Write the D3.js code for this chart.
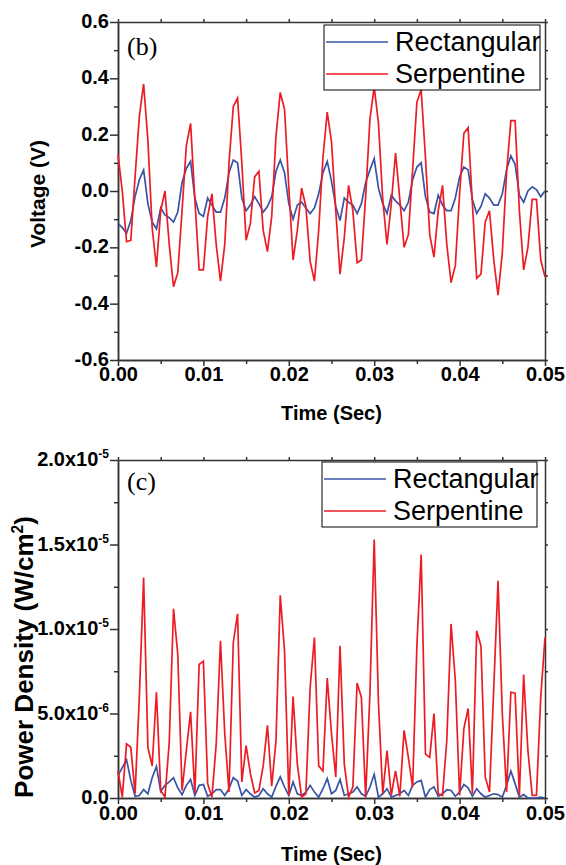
<!DOCTYPE html>
<html lang="en">
<head>
<meta charset="UTF-8">
<title>Voltage and Power Density vs Time</title>
<script src="https://d3js.org/d3.v7.min.js"></script>
<style>
  body { margin: 0; background: #fff; }
  .axis path, .axis line { stroke: #333; stroke-width: 1.5; }
  .axis text { font-family: "Liberation Sans", Arial, sans-serif; font-weight: bold; font-size: 20px; fill: #000; }
  .title { font-family: "Liberation Sans", Arial, sans-serif; font-weight: bold; fill: #000; }
  .legend text { font-family: "Liberation Sans", Arial, sans-serif; font-size: 27px; fill: #000; }
  .tag { font-family: "Liberation Serif", "Times New Roman", serif; font-size: 26px; fill: #000; }
  .series { fill: none; stroke-width: 1.7; stroke-linejoin: miter; }
</style>
</head>
<body>
<div id="chart"></div>
<script>
// sample step of the recordings (s)
const dt = 0.0005;
const seriesNames = ["Rectangular", "Serpentine"];
const seriesColors = ["#3953a4", "#ed1c24"];

// (b) voltage, V
const voltRect = [
  -0.115, -0.13, -0.15, -0.105, -0.02, 0.04, 0.075, -0.045, -0.11, -0.135,
  -0.06, -0.085, -0.095, -0.11, -0.075, 0.03, 0.08, 0.105, -0.025, -0.08,
  -0.09, -0.025, -0.05, -0.075, -0.075, -0.025, 0.065, 0.11, 0.1, -0.025,
  -0.07, -0.05, -0.02, -0.045, -0.075, -0.055, -0.02, 0.07, 0.11, 0.065,
  -0.045, -0.1, -0.05, -0.04, -0.06, -0.08, -0.06, -0.01, 0.065, 0.105,
  0.035, -0.055, -0.105, -0.025, -0.04, -0.05, -0.08, -0.045, 0.03, 0.075,
  0.115, 0.01, -0.045, -0.08, -0.015, -0.035, -0.05, -0.07, -0.04, 0.04,
  0.085, 0.1, -0.02, -0.075, -0.08, -0.015, -0.05, -0.07, -0.07, -0.025,
  0.05, 0.085, 0.075, -0.03, -0.08, -0.055, -0.01, -0.025, -0.05, -0.05,
  -0.01, 0.075, 0.125, 0.095, -0.015, -0.04, 0.0, 0.015, 0.005, -0.02, 0.0
];
const voltSerp = [
  0.13, 0.0, -0.18, -0.175, 0.05, 0.265, 0.38, 0.18, -0.13, -0.27,
  -0.07, 0.0, -0.19, -0.34, -0.29, -0.07, 0.16, 0.24, -0.03, -0.28,
  -0.28, -0.09, -0.01, -0.19, -0.32, -0.19, 0.1, 0.3, 0.33, 0.1,
  -0.175, -0.115, 0.05, 0.07, -0.14, -0.215, -0.09, 0.195, 0.35, 0.29,
  0.015, -0.245, -0.14, 0.01, -0.055, -0.25, -0.32, -0.14, 0.12, 0.28,
  0.175, -0.07, -0.295, -0.165, 0.02, -0.07, -0.255, -0.245, -0.02, 0.255,
  0.37, 0.24, -0.03, -0.19, -0.045, 0.135, -0.03, -0.2, -0.155, 0.075,
  0.315, 0.36, 0.12, -0.155, -0.235, -0.07, 0.02, -0.19, -0.325, -0.265,
  -0.01, 0.205, 0.225, -0.045, -0.31, -0.295, -0.11, -0.07, -0.245, -0.37,
  -0.22, 0.065, 0.25, 0.25, -0.07, -0.28, -0.2, -0.03, -0.03, -0.245, -0.305
];

// (c) power density, in units of 1e-6 W/cm2
const powerRect = [
  1.34, 1.8, 2.26, 1.04, 0.1, 0.15, 0.5, 0.25, 1.2, 1.87,
  0.4, 0.75, 0.95, 1.2, 0.6, 0.2, 0.75, 1.1, 0.15, 0.75,
  0.8, 0.1, 0.25, 0.5, 0.5, 0.15, 0.55, 1.2, 1.0, 0.15,
  0.5, 0.25, 0.05, 0.15, 0.55, 0.25, 0.05, 0.7, 1.25, 0.65,
  0.15, 0.95, 0.25, 0.15, 0.35, 0.75, 0.35, 0.05, 0.55, 1.15,
  0.25, 0.45, 1.1, 0.15, 0.25, 0.35, 0.65, 0.25, 0.1, 0.65,
  1.4, 0.05, 0.25, 0.55, 0.05, 0.15, 0.25, 0.45, 0.15, 0.75,
  0.95, 1.04, 0.05, 0.5, 0.65, 0.1, 0.25, 0.5, 0.45, 0.1,
  0.35, 0.8, 0.6, 0.1, 0.55, 0.25, 0.05, 0.15, 0.25, 0.2,
  0.05, 0.75, 1.6, 0.85, 0.05, 0.2, 0.0, 0.0, 0.0, 0.05, 0.0
];
const powerSerp = [
  1.6, 0.05, 3.2, 3.0, 0.25, 6.0, 13.05, 3.0, 1.9, 6.26,
  0.45, 0.05, 3.3, 11.2, 8.5, 0.45, 2.8, 5.1, 0.25, 7.9,
  8.1, 0.85, 0.05, 3.2, 9.3, 3.8, 0.35, 9.2, 10.9, 0.95,
  3.1, 1.45, 0.3, 0.45, 1.9, 4.3, 0.7, 3.4, 12.0, 8.7,
  0.15, 6.0, 2.0, 0.05, 0.25, 6.55, 9.5, 1.9, 1.6, 7.1,
  3.8, 1.25, 9.0, 2.0, 0.05, 0.65, 6.8, 5.95, 0.05, 6.2,
  15.3, 5.6, 0.25, 2.8, 0.15, 1.6, 0.1, 4.0, 2.4, 0.65,
  9.0, 14.4, 2.6, 2.4, 5.0, 0.25, 0.15, 3.4, 10.3, 6.95,
  0.15, 4.1, 5.3, 0.25, 9.9, 9.0, 1.25, 0.35, 6.5, 12.85,
  5.0, 0.35, 6.26, 6.2, 0.15, 7.3, 2.8, 0.15, 0.15, 5.95, 9.5
];

const timeTicks = [0, 0.01, 0.02, 0.03, 0.04, 0.05];
const timeMinor = [0.005, 0.015, 0.025, 0.035, 0.045];
const voltTicks = [-0.6, -0.4, -0.2, 0.0, 0.2, 0.4, 0.6];
const voltMinor = [-0.5, -0.3, -0.1, 0.1, 0.3, 0.5];
const powerTicks = [0, 5, 10, 15, 20];
const powerMinor = [2.5, 7.5, 12.5, 17.5];
const powerLabels = [["0.0", ""], ["5.0x10", "-6"], ["1.0x10", "-5"], ["1.5x10", "-5"], ["2.0x10", "-5"]];

const time = voltRect.map((d, i) => i * dt);

const svg = d3.select("#chart").append("svg")
  .attr("width", 566).attr("height", 865);

const x = d3.scaleLinear().domain([0, 0.05]).range([118, 545]);

// plain hyphen for negatives, like the original plot
const hyphenFormat = d => d3.format(".1f")(d).replace("\u2212", "-");

function drawPanel(p) {
  const y = d3.scaleLinear().domain(p.yDomain).range([p.bottom, p.top]);
  const g = svg.append("g");

  // minor ticks
  g.append("g").attr("class", "axis").attr("transform", "translate(118,0)")
    .call(d3.axisLeft(y).tickValues(p.yMinor).tickSize(4).tickSizeOuter(0).tickFormat(""));
  g.append("g").attr("class", "axis").attr("transform", `translate(0,${p.bottom})`)
    .call(d3.axisBottom(x).tickValues(timeMinor).tickSize(4).tickSizeOuter(0).tickFormat(""));

  // mirrored frame
  g.append("g").attr("class", "axis").attr("transform", `translate(0,${p.top})`)
    .call(d3.axisTop(x).tickValues(timeTicks.concat(timeMinor)).tickSize(3).tickSizeOuter(0).tickFormat(""));
  g.append("g").attr("class", "axis").attr("transform", "translate(545,0)")
    .call(d3.axisRight(y).tickValues(p.yTicks.concat(p.yMinor)).tickSize(3).tickSizeOuter(0).tickFormat(""));

  // main axes
  const ya = g.append("g").attr("class", "axis").attr("transform", "translate(118,0)")
    .call(d3.axisLeft(y).tickValues(p.yTicks).tickSize(8).tickSizeOuter(0).tickFormat(p.yFormat || null));
  ya.selectAll("text").attr("x", -9).attr("dy", "0.28em");
  if (p.yLabels) {
    ya.selectAll("text").each(function(d, i) {
      const t = d3.select(this).text(p.yLabels[i][0]);
      if (p.yLabels[i][1]) t.append("tspan").attr("font-size", 12).attr("dy", -8).text(p.yLabels[i][1]);
    });
  }
  const xa = g.append("g").attr("class", "axis").attr("transform", `translate(0,${p.bottom})`)
    .call(d3.axisBottom(x).tickValues(timeTicks).tickSize(6).tickSizeOuter(0).tickFormat(d3.format(".2f")));
  xa.selectAll("text").attr("y", p.xLabelGap).attr("dy", 0);

  // series
  const line = d3.line().x((d, i) => x(time[i])).y(d => y(d));
  p.series.forEach((s, k) => {
    g.append("path").attr("class", "series")
      .attr("stroke", seriesColors[k])
      .attr("d", line(s));
  });

  // titles
  svg.append("text").attr("class", "title")
    .attr("x", 331.5).attr("y", p.xTitleY)
    .attr("text-anchor", "middle").attr("font-size", 20)
    .text("Time (Sec)");
  const yt = svg.append("text").attr("class", "title")
    .attr("transform", `translate(${p.yTitleX},${p.yTitleY}) rotate(-90)`)
    .attr("text-anchor", "middle").attr("font-size", p.yTitleSize);
  p.yTitle.forEach(part => {
    const ts = yt.append("tspan").text(part[0]);
    if (part[1] === "sup") ts.attr("font-size", p.yTitleSize * 0.6).attr("dy", -p.yTitleSize * 0.4);
    if (part[1] === "base") ts.attr("dy", p.yTitleSize * 0.4);
  });

  svg.append("text").attr("class", "tag")
    .attr("x", 127).attr("y", p.tagY).text(p.tag);

  // legend
  const lg = svg.append("g").attr("class", "legend");
  lg.append("rect").attr("x", p.legend.x).attr("y", p.legend.y)
    .attr("width", p.legend.w).attr("height", 65)
    .attr("fill", "#fff").attr("stroke", "#000").attr("stroke-width", 1);
  seriesNames.forEach((name, k) => {
    const ly = p.legend.y + 17 + k * 32;
    lg.append("line").attr("x1", p.legend.x + 2).attr("x2", p.legend.x + 64)
      .attr("y1", ly).attr("y2", ly)
      .attr("stroke", seriesColors[k]).attr("stroke-width", 1.6);
    lg.append("text").attr("x", p.legend.x + 71).attr("y", ly + 8.5).text(name);
  });
}

drawPanel({
  top: 22, bottom: 360, yDomain: [-0.6, 0.6],
  yTicks: voltTicks, yMinor: voltMinor, yFormat: hyphenFormat,
  xLabelGap: 21, xTitleY: 420,
  yTitle: [["Voltage (V)"]], yTitleSize: 21, yTitleX: 45, yTitleY: 194,
  tag: "(b)", tagY: 55,
  legend: { x: 324, y: 25, w: 216 },
  series: [voltRect, voltSerp]
});

drawPanel({
  top: 460, bottom: 798, yDomain: [0, 20],
  yTicks: powerTicks, yMinor: powerMinor, yLabels: powerLabels,
  xLabelGap: 22, xTitleY: 861,
  yTitle: [["Power Density (W/cm"], ["2", "sup"], [")", "base"]], yTitleSize: 26, yTitleX: 33, yTitleY: 657,
  tag: "(c)", tagY: 490,
  legend: { x: 322, y: 462, w: 215 },
  series: [powerRect, powerSerp]
});
</script>
</body>
</html>
